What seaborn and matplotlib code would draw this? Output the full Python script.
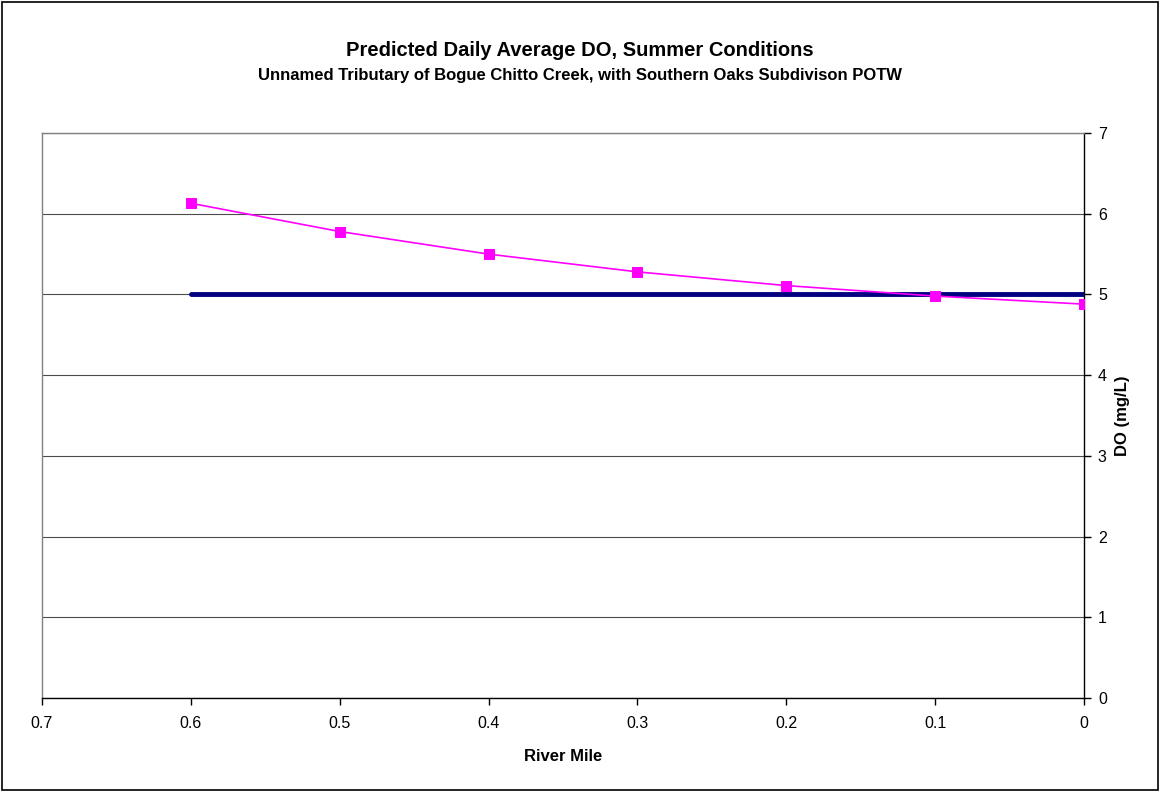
import numpy as np
import pandas as pd
import matplotlib
matplotlib.use("Agg")
import matplotlib.pyplot as plt
import seaborn as sns

# ==========================
# Data
# ==========================
river_mile = [0.6, 0.5, 0.4, 0.3, 0.2, 0.1, 0.0]
predicted_do = [6.13, 5.78, 5.50, 5.28, 5.11, 4.98, 4.88]
standard_mile = [0.6, 0.0]
standard_do = [5.0, 5.0]

x_ticks = [0.7, 0.6, 0.5, 0.4, 0.3, 0.2, 0.1, 0]
y_ticks = [0, 1, 2, 3, 4, 5, 6, 7]

sns.set_style("white")
plt.rcParams['font.family'] = ['Liberation Sans', 'DejaVu Sans']
plt.rcParams['text.color'] = 'black'
plt.rcParams['axes.labelcolor'] = 'black'
plt.rcParams['xtick.color'] = 'black'
plt.rcParams['ytick.color'] = 'black'

fig = plt.figure(figsize=(11.6, 7.92), dpi=100)
ax = fig.add_axes([0.0362, 0.1187, 0.8983, 0.7133])

df_std = pd.DataFrame({'mile': standard_mile, 'do': standard_do})
df_pred = pd.DataFrame({'mile': river_mile, 'do': predicted_do})

sns.lineplot(data=df_std, x='mile', y='do', ax=ax, color='#000080',
             linewidth=3.5, zorder=3)
sns.lineplot(data=df_pred, x='mile', y='do', ax=ax, color='#FF00FF',
             linewidth=1.2, marker='s', markersize=7,
             markeredgecolor='#FF00FF', zorder=4)

ax.set_xlim(0.7, 0)
ax.set_ylim(0, 7)
ax.set_xticks(x_ticks)
ax.set_xticklabels([str(t) for t in x_ticks])
ax.set_yticks(y_ticks)

# y axis on the right, like the spreadsheet original
ax.yaxis.tick_right()
ax.yaxis.set_label_position('right')
ax.grid(axis='y', color='black', linewidth=0.8, alpha=0.7)
ax.grid(axis='x', visible=False)

ax.spines['top'].set_color('#808080')
ax.spines['left'].set_color('#808080')
ax.spines['right'].set_color('black')
ax.spines['bottom'].set_color('black')
for sp in ax.spines.values():
    sp.set_linewidth(1.0)

ax.tick_params(axis='both', direction='out', length=5, width=1,
               labelsize=11.5, color='black')
ax.tick_params(axis='y', right=True, left=False, pad=5)
ax.tick_params(axis='x', bottom=True, pad=8)

ax.set_xlabel('River Mile', fontsize=12, fontweight='bold', labelpad=13)
ax.set_ylabel('DO (mg/L)', fontsize=12, fontweight='bold', labelpad=6)

fig.text(0.5, 0.929, 'Predicted Daily Average DO, Summer Conditions',
         ha='center', fontsize=14.5, fontweight='bold')
fig.text(0.5, 0.899, 'Unnamed Tributary of Bogue Chitto Creek, with Southern Oaks Subdivison POTW',
         ha='center', fontsize=12, fontweight='bold')

# outer chart border
fig.patches.append(plt.Rectangle((0.002, 0.002), 0.996, 0.996, fill=False,
                                 edgecolor='black', linewidth=1.2,
                                 transform=fig.transFigure))

fig.savefig('out.png', dpi=100)
